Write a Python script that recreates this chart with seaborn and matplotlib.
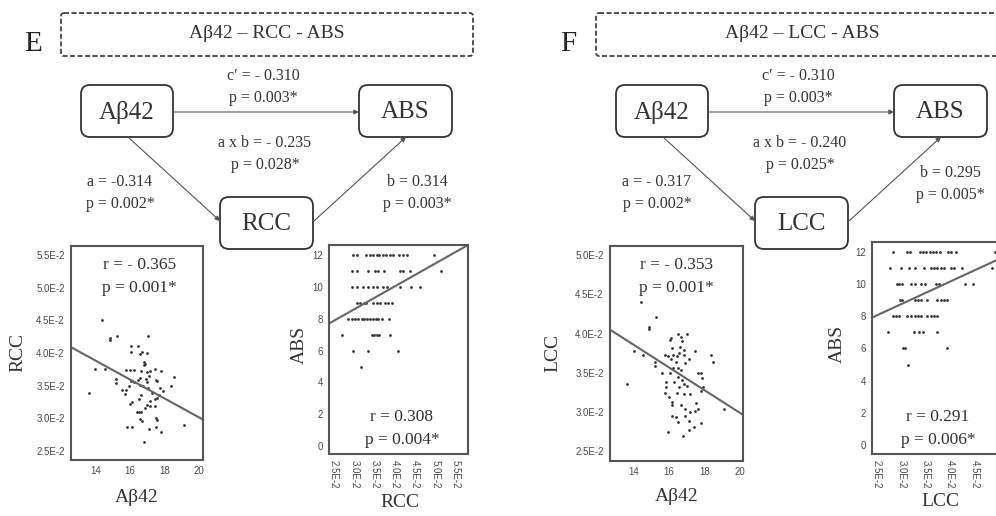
import numpy as np
import pandas as pd
import seaborn as sns
import matplotlib.pyplot as plt
from matplotlib.patches import FancyBboxPatch
from matplotlib.ticker import FuncFormatter

# ---- data ----
# E, left scatter: Abeta42 vs RCC (RCC in units of 1E-2)
E_abeta = [14.35, 14.84, 14.84, 15.22, 17.03, 16.02, 16.45, 16.02, 16.59, 16.70, 16.97, 16.80, 16.78, 16.84,
           13.98, 14.55, 15.73, 15.96, 16.20, 16.60, 16.97, 17.13, 17.42, 17.81, 15.15, 15.15, 16.02, 16.20,
           16.45, 16.55, 16.90, 16.97, 17.09, 17.48, 17.58, 18.54, 18.35, 16.55, 16.74, 17.03, 17.71, 15.54,
           15.73, 15.93, 17.90, 17.67, 13.59, 15.67, 17.29, 17.56, 17.17, 17.42, 16.63, 16.49, 16.97, 16.84,
           17.13, 17.46, 16.00, 16.10, 16.39, 16.49, 16.63, 16.55, 16.70, 17.52, 17.58, 15.84, 16.10, 17.07,
           17.52, 17.81, 19.10, 16.78]
E_rcc = [4.50, 4.23, 4.20, 4.26, 4.26, 4.10, 4.10, 4.01, 3.98, 4.02, 4.00, 3.86, 3.81, 3.83,
         3.76, 3.76, 3.74, 3.74, 3.74, 3.73, 3.71, 3.72, 3.76, 3.73, 3.60, 3.54, 3.57, 3.56,
         3.58, 3.62, 3.60, 3.56, 3.65, 3.59, 3.57, 3.63, 3.50, 3.51, 3.49, 3.47, 3.47, 3.43,
         3.44, 3.49, 3.41, 3.35, 3.39, 3.37, 3.39, 3.31, 3.27, 3.30, 3.35, 3.30, 3.20, 3.15,
         3.19, 3.19, 3.22, 3.25, 3.10, 3.09, 3.10, 2.99, 2.96, 3.00, 2.97, 2.86, 2.86, 2.83,
         2.86, 2.79, 2.90, 2.63]

# E, right scatter: RCC (1E-2) per ABS score
E_abs_rows = {
    12: [2.975, 3.057, 3.287, 3.385, 3.451, 3.549, 3.615, 3.697, 3.779, 3.877, 3.959, 4.107, 4.189, 4.287, 4.959],
    11: [2.934, 3.057, 3.344, 3.508, 3.590, 3.730, 4.123, 4.205, 4.369, 5.131],
    10: [2.934, 3.057, 3.221, 3.344, 3.451, 3.549, 3.713, 3.811, 4.123, 4.385, 4.615],
    9: [3.057, 3.139, 3.238, 3.287, 3.467, 3.566, 3.631, 3.754, 3.836, 3.918],
    8: [2.852, 2.934, 3.016, 3.098, 3.180, 3.238, 3.303, 3.385, 3.467, 3.533, 3.590, 3.672, 3.861],
    7: [2.689, 3.426, 3.484, 3.549, 3.615, 3.877],
    6: [2.959, 3.344, 4.082],
    5: [3.164],
}

# F, left scatter: Abeta42 vs LCC (1E-2)
F_abeta = [14.39, 15.26, 14.87, 14.87, 14.00, 14.54, 15.20, 15.20, 13.61, 15.61, 15.81, 15.79, 16.04, 16.10,
           16.19, 16.49, 16.66, 16.72, 16.62, 17.01, 15.94, 16.08, 16.23, 16.43, 16.58, 16.87, 17.15, 16.82,
           16.37, 16.52, 16.68, 16.91, 17.46, 16.21, 16.04, 16.52, 16.72, 16.56, 16.87, 17.01, 15.84, 15.75,
           15.98, 16.14, 16.14, 16.43, 16.82, 17.20, 16.29, 16.68, 16.91, 17.50, 17.65, 17.46, 17.20, 16.14,
           16.37, 16.52, 16.91, 17.15, 17.40, 17.11, 17.79, 15.94, 16.78, 17.88, 17.84, 17.79, 18.37, 18.52,
           19.10, 17.95, 17.66]
F_lcc = [4.41, 4.21, 4.08, 4.06, 3.78, 3.72, 3.64, 3.58, 3.36, 3.49, 3.38, 3.73, 3.92, 3.94,
         3.82, 3.99, 3.95, 3.90, 3.83, 4.00, 3.71, 3.68, 3.73, 3.71, 3.75, 3.73, 3.68, 3.79,
         3.64, 3.56, 3.53, 3.62, 3.78, 3.56, 3.50, 3.45, 3.41, 3.32, 3.36, 3.33, 3.32, 3.24,
         3.19, 3.13, 3.09, 3.24, 3.23, 3.23, 3.38, 3.09, 3.04, 3.11, 3.04, 3.01, 3.00, 2.94,
         2.93, 2.87, 2.94, 2.88, 2.81, 2.77, 2.85, 2.74, 2.69, 3.43, 3.49, 3.26, 3.73, 3.63,
         3.04, 3.32, 3.50]

# F, right scatter: LCC (1E-2) per ABS score
F_abs_rows = {
    12: [2.833, 3.112, 3.173, 3.377, 3.446, 3.514, 3.582, 3.650, 3.718, 3.786, 3.956, 4.024, 4.126, 4.929],
    11: [2.772, 2.990, 3.160, 3.276, 3.466, 3.602, 3.670, 3.738, 3.806, 3.874, 4.010, 4.078, 4.248, 4.861],
    10: [2.908, 2.963, 3.024, 3.207, 3.276, 3.412, 3.480, 3.704, 3.772, 4.296, 4.466],
    9: [2.969, 3.024, 3.276, 3.344, 3.398, 3.534, 3.738, 3.806, 3.874, 3.942],
    8: [2.820, 2.888, 2.956, 3.112, 3.194, 3.276, 3.344, 3.412, 3.534, 3.602, 3.670, 3.738],
    7: [2.718, 3.262, 3.364, 3.452, 3.738],
    6: [3.037, 3.078, 3.929],
    5: [3.139],
}

# fitted lines (intercept, slope) as drawn
E_left_fit = (5.907, -0.1447)
E_right_fit = (4.280, 1.443)
F_left_fit = (5.873, -0.1442)
F_right_fit = (4.56, 1.40)

# correlation annotations
E_left_stats = ["r = - 0.365", "p = 0.001*"]
E_right_stats = ["r = 0.308", "p = 0.004*"]
F_left_stats = ["r = - 0.353", "p = 0.001*"]
F_right_stats = ["r = 0.291", "p = 0.006*"]

# mediation diagrams
panels = ["E", "F"]
titles = ["A\u03b242 \u2013 RCC - ABS", "A\u03b242 \u2013 LCC - ABS"]
mediators = ["RCC", "LCC"]
c_prime = [["c\u2032 = - 0.310", "p = 0.003*"], ["c\u2032 = - 0.310", "p = 0.003*"]]
a_by_b = [["a x b = - 0.235", "p = 0.028*"], ["a x b = - 0.240", "p = 0.025*"]]
a_path = [["a = -0.314", "p = 0.002*"], ["a = - 0.317", "p = 0.002*"]]
b_path = [["b = 0.314", "p = 0.003*"], ["b = 0.295", "p = 0.005*"]]

# ---- style ----
sns.set_theme(style="white")
plt.rcParams["font.family"] = ["Liberation Serif", "DejaVu Serif"]
TXT = "#333333"
SANS = ["Liberation Sans", "DejaVu Sans"]

fig = plt.figure(figsize=(9.96, 5.16), dpi=100)

# overlay in pixel coordinates for the diagrams
ov = fig.add_axes([0, 0, 1, 1])
ov.set_xlim(0, 996)
ov.set_ylim(516, 0)
ov.axis("off")


def box(x0, y0, x1, y1, label, size=18):
    ov.add_patch(FancyBboxPatch((x0, y0), x1 - x0, y1 - y0,
                                boxstyle="round,pad=0,rounding_size=9",
                                fc="white", ec="#333333", lw=1.3))
    ov.text((x0 + x1) / 2, (y0 + y1) / 2 + 1, label, ha="center", va="center",
            fontsize=size, color=TXT)


def arrow(p0, p1):
    ov.annotate("", xy=p1, xytext=p0,
                arrowprops=dict(arrowstyle="-|>", color="#555555", lw=0.8,
                                mutation_scale=7, shrinkA=0, shrinkB=0))


def pair(x, y, lines, size=11.5):
    ov.text(x, y, lines[0], ha="center", va="center", fontsize=size, color=TXT)
    ov.text(x, y + 22, lines[1], ha="center", va="center", fontsize=size, color=TXT)


for i, dx in enumerate([0, 535]):
    ov.text(33 + dx, 44, panels[i], ha="center", va="center", fontsize=21, color="#222222")
    ov.add_patch(FancyBboxPatch((61 + dx, 13), 412, 43, boxstyle="round,pad=0,rounding_size=3",
                                fc="none", ec="#333333", lw=1.2, ls=(0, (3, 1.5))))
    ov.text(267 + dx, 34, titles[i], ha="center", va="center", fontsize=14, color=TXT)
    box(81 + dx, 85, 173 + dx, 137, "A\u03b242")
    box(359 + dx, 85, 452 + dx, 137, "ABS")
    box(220 + dx, 197, 313 + dx, 249, mediators[i])
    arrow((173 + dx, 112), (359 + dx, 112))
    arrow((128 + dx, 137), (220 + dx, 221))
    arrow((314 + dx, 221), (406 + dx, 137))
    pair(263 + dx, 76, c_prime[i])
    pair(265 + dx, 143, a_by_b[i])
    pair(120 + dx + (2 if i else 0), 182, a_path[i])
    pair(417 + dx - (2 if i else 0), 182 - (9 if i else 0), b_path[i])


def style_axes(ax):
    for s in ax.spines.values():
        s.set_color("#555555")
        s.set_linewidth(1.5)
    ax.tick_params(direction="out", length=3, width=1, color="#555555",
                   labelsize=7, labelcolor="#4a4a4a", pad=1.5)
    for lab in ax.get_xticklabels() + ax.get_yticklabels():
        lab.set_family(SANS)
    ax.set_xlabel("")
    ax.set_ylabel("")


e2 = FuncFormatter(lambda v, _: f"{v:.1f}E-2")


def scatter_panel(rect, x, y, fit, xlim, ylim, xticks, yticks, stats, stat_pos,
                  xlabel, ylabel, xlab_pos, ylab_pos, rot_x=False):
    ax = fig.add_axes(rect)
    df = pd.DataFrame({"x": x, "y": y})
    sns.scatterplot(data=df, x="x", y="y", ax=ax, s=4, color="#333333", linewidth=0)
    fx = np.array(xlim)
    sns.lineplot(x=fx, y=fit[0] + fit[1] * fx, ax=ax, color="#666666", lw=1.5)
    ax.set_xlim(xlim)
    ax.set_ylim(ylim)
    ax.set_xticks(xticks)
    ax.set_yticks(yticks)
    if rot_x:
        ax.xaxis.set_major_formatter(e2)
        ax.tick_params(axis="x", labelrotation=-90)
    else:
        ax.yaxis.set_major_formatter(e2)
    style_axes(ax)
    ax.text(stat_pos[0], stat_pos[1], stats[0], transform=ax.transAxes,
            ha="center", va="center", fontsize=12.5, color=TXT)
    ax.text(stat_pos[0], stat_pos[1] - stat_pos[2], stats[1], transform=ax.transAxes,
            ha="center", va="center", fontsize=12.5, color=TXT)
    ax.text(xlab_pos[0], xlab_pos[1], xlabel, transform=ax.transAxes,
            ha="center", va="center", fontsize=14, color=TXT)
    ax.text(ylab_pos[0], ylab_pos[1], ylabel, transform=ax.transAxes, rotation=90,
            ha="center", va="center", fontsize=14, color=TXT)
    return ax


def flatten(rows):
    xs, ys = [], []
    for score, vals in rows.items():
        xs += vals
        ys += [score] * len(vals)
    return xs, ys


ab_ticks = [14, 16, 18, 20]
score_ticks = [0, 2, 4, 6, 8, 10, 12]
cc_ticks = [2.5, 3.0, 3.5, 4.0, 4.5, 5.0, 5.5]

scatter_panel([71 / 996, 1 - 460 / 516, 132 / 996, 214 / 516], E_abeta, E_rcc, E_left_fit,
              (12.56, 20.23), (2.36, 5.64), ab_ticks, cc_ticks, E_left_stats, (0.52, 0.911, 0.107),
              "A\u03b242", "RCC", (0.5, -0.173), (-0.40, 0.5))

ex, ey = flatten(E_abs_rows)
scatter_panel([329 / 996, 1 - 454 / 516, 139 / 996, 209 / 516], ex, ey, E_right_fit,
              (2.377, 5.80), (-0.5, 12.65), cc_ticks, score_ticks, E_right_stats, (0.525, 0.177, 0.11),
              "RCC", "ABS", (0.51, -0.234), (-0.21, 0.52), rot_x=True)

scatter_panel([610 / 996, 1 - 461 / 516, 133 / 996, 215 / 516], F_abeta, F_lcc, F_left_fit,
              (12.64, 20.2), (2.37, 5.12), ab_ticks, cc_ticks[:-1], F_left_stats, (0.50, 0.912, 0.107),
              "A\u03b242", "LCC", (0.5, -0.167), (-0.43, 0.5))

fx_, fy_ = flatten(F_abs_rows)
scatter_panel([872 / 996, 1 - 454 / 516, 167 / 996, 212 / 516], fx_, fy_, F_right_fit,
              (2.40, 5.82), (-0.56, 12.62), cc_ticks, score_ticks, F_right_stats, (0.395, 0.175, 0.109),
              "LCC", "ABS", (0.41, -0.226), (-0.21, 0.52), rot_x=True)

fig.savefig("out.png", dpi=100)
